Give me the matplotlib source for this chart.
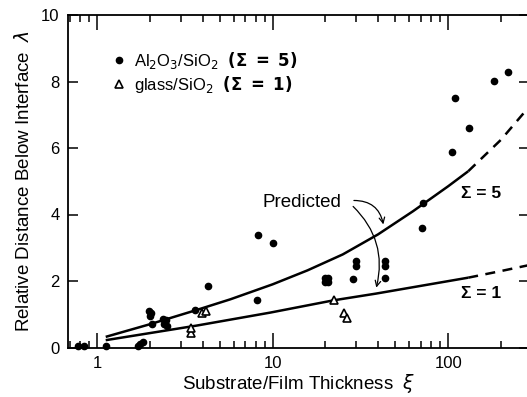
import matplotlib
matplotlib.use("Agg")
import matplotlib.pyplot as plt
from matplotlib.ticker import LogLocator, FixedLocator, NullFormatter, FixedFormatter

plt.rcParams['font.family'] = ['Liberation Sans', 'DejaVu Sans']
plt.rcParams['mathtext.fontset'] = 'dejavusans'

# Al2O3/SiO2 (Sigma = 5) measurements
al_x = [0.78, 0.84, 1.13, 1.70, 1.76, 1.82, 1.98, 2.02, 2.00, 2.05,
        2.38, 2.48, 2.42, 2.50, 3.63, 4.30, 8.1, 8.3, 10.1,
        20.0, 20.8, 20.0, 20.8, 28.6, 30.0, 30.0, 43.5, 43.5, 43.5,
        71.0, 72.0, 105, 109, 131, 183, 218]
al_y = [0.05, 0.05, 0.06, 0.05, 0.10, 0.18, 1.10, 1.05, 0.95, 0.70,
        0.85, 0.82, 0.72, 0.65, 1.13, 1.85, 1.42, 3.38, 3.13,
        2.10, 2.10, 1.97, 1.97, 2.05, 2.60, 2.45, 2.60, 2.45, 2.08,
        3.60, 4.34, 5.88, 7.50, 6.61, 8.03, 8.30]

# glass/SiO2 (Sigma = 1) measurements
gl_x = [3.45, 3.45, 3.95, 4.15, 22.3, 25.5, 26.5]
gl_y = [0.45, 0.60, 1.05, 1.10, 1.42, 1.05, 0.90]

# predicted curves
s5_x = [1.12, 2.0, 3.7, 5.75, 10.0, 15.8, 25.1, 39.8, 63.1, 100, 130]
s5_y = [0.32, 0.70, 1.13, 1.45, 1.90, 2.32, 2.80, 3.40, 4.10, 4.85, 5.30]
s5d_x = [130, 200, 290]
s5d_y = [5.30, 6.25, 7.25]
s1_x = [1.12, 3.7, 9.7, 22.3, 38.7, 130]
s1_y = [0.22, 0.66, 1.05, 1.42, 1.62, 2.10]
s1d_x = [130, 200, 290]
s1d_y = [2.10, 2.30, 2.48]

x_major = [1, 10, 100]
x_major_labels = ["1", "10", "100"]
y_ticks = [0, 2, 4, 6, 8, 10]

fig = plt.figure(figsize=(5.27, 3.97), dpi=100)
ax = fig.add_axes([68/527, 1-347.5/397, (527-68)/527 + 0.003, (347.5-15)/397])
ax.set_xscale('log')
ax.set_xlim(0.683, 287)
ax.set_ylim(0, 10)

ax.plot(s5_x, s5_y, color='black', lw=1.8, solid_capstyle='butt')
ax.plot(s5d_x, s5d_y, color='black', lw=1.8, ls=(0, (4, 3)))
ax.plot(s1_x, s1_y, color='black', lw=1.8, solid_capstyle='butt')
ax.plot(s1d_x, s1d_y, color='black', lw=1.8, ls=(0, (4, 3)))

ax.plot(al_x, al_y, 'o', color='black', ms=4.5, ls='none', clip_on=False,
        label=r"Al$_2$O$_3$/SiO$_2$  $\mathbf{(\Sigma\ =\ 5)}$", zorder=5)
ax.plot(gl_x, gl_y, '^', mfc='white', mec='black', mew=1.2, ms=5.5, ls='none',
        label=r"glass/SiO$_2$  $\mathbf{(\Sigma\ =\ 1)}$", zorder=5)

leg = ax.legend(loc='upper left', bbox_to_anchor=(0.08, 0.915), frameon=False,
                fontsize=12, handlelength=0.9, handletextpad=0.45,
                labelspacing=0.2, borderaxespad=0)

ax.text(118, 4.62, "Σ = 5", fontsize=12.5, fontweight='bold', va='center', ha='left')
ax.text(118, 1.62, "Σ = 1", fontsize=12.5, fontweight='bold', va='center', ha='left')

ax.text(14.6, 4.37, "Predicted", fontsize=13.5, ha='center', va='center')
ax.annotate("", xy=(43, 3.62), xytext=(28, 4.42),
            arrowprops=dict(arrowstyle='->', color='black', lw=0.9,
                            connectionstyle='arc3,rad=-0.45'))
ax.annotate("", xy=(38.6, 1.72), xytext=(28, 4.30),
            arrowprops=dict(arrowstyle='->', color='black', lw=0.9,
                            connectionstyle='arc3,rad=-0.3'))

ax.xaxis.set_major_locator(FixedLocator(x_major))
ax.xaxis.set_major_formatter(FixedFormatter(x_major_labels))
ax.xaxis.set_minor_locator(LogLocator(base=10, subs=[2, 3, 4, 5, 6, 7, 8, 9]))
ax.xaxis.set_minor_formatter(NullFormatter())
ax.set_yticks(y_ticks)

ax.tick_params(axis='both', which='both', direction='in', top=True, right=True,
               labelsize=12, width=1.1, colors='black')
ax.tick_params(axis='x', which='major', length=11, pad=6)
ax.tick_params(axis='x', which='minor', length=5)
ax.tick_params(axis='y', which='major', length=7, pad=6)
for s in ax.spines.values():
    s.set_linewidth(1.3)

ax.set_xlabel(r"Substrate/Film Thickness  $\xi$", fontsize=13.5, labelpad=1)
ax.set_ylabel(r"Relative Distance Below Interface  $\lambda$", fontsize=13.5, labelpad=6)

fig.savefig("out.png", dpi=100)
